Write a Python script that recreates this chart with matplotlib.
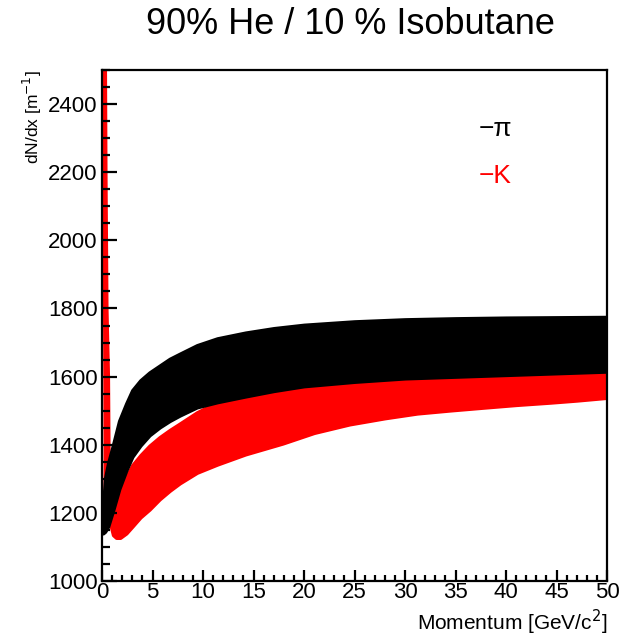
import numpy as np
import matplotlib.pyplot as plt
from matplotlib.ticker import MultipleLocator

plt.rcParams['font.family'] = ['Liberation Sans', 'DejaVu Sans']

# pion band envelope (dN/dx vs momentum)
pi_p     = [0.1, 0.3, 0.6, 1.1, 1.7, 2.4, 3.0, 3.8, 4.7, 5.7, 6.7, 7.7, 9.4, 11.4,
            14.2, 17.0, 20.0, 25.0, 30.0, 35.0, 40.0, 45.0, 50.0]
pi_lower = [1140, 1145, 1160, 1208, 1270, 1325, 1365, 1398, 1428, 1451, 1470, 1486, 1510, 1525,
            1542, 1558, 1572, 1585, 1595, 1600, 1605, 1610, 1615]
pi_upper = [1210, 1300, 1345, 1400, 1470, 1521, 1560, 1589, 1612, 1632, 1652, 1667, 1692, 1712,
            1729, 1742, 1752, 1762, 1768, 1771, 1773, 1774, 1775]

# kaon band envelope
k_p     = [0.8, 1.1, 1.4, 1.8, 2.4, 3.0, 3.8, 4.7, 5.7, 6.7, 7.7, 9.4, 11.4, 14.2, 17.9,
           21.0, 24.5, 28.0, 31.2, 34.5, 37.7, 41.0, 44.4, 47.0, 50.0]
k_lower = [1170, 1135, 1127, 1127, 1140, 1160, 1187, 1210, 1240, 1265, 1287, 1318, 1342, 1372, 1404,
           1435, 1460, 1478, 1492, 1501, 1509, 1517, 1524, 1530, 1538]
k_upper = [1195, 1230, 1250, 1275, 1305, 1340, 1369, 1397, 1422, 1443, 1462, 1495, 1525, 1555, 1580,
           1595, 1605, 1612, 1616, 1620, 1624, 1628, 1632, 1636, 1640]

# low momentum kaons (steep rise near p = 0)
k_strip_y    = [1250, 1400, 1600, 1800, 2000, 2200, 2500]
k_strip_pmin = [0.1, 0.1, 0.08, 0.05, 0.05, 0.05, 0.05]
k_strip_pmax = [0.9, 0.8, 0.75, 0.6, 0.55, 0.5, 0.45]

fig = plt.figure(figsize=(6.25, 6.37), dpi=100)
ax = fig.add_axes([0.1632, 0.0879, 0.808, 0.8022])

ax.fill_betweenx(k_strip_y, k_strip_pmin, k_strip_pmax, color='#ff0000', lw=0)
ax.fill_between(k_p, k_lower, k_upper, color='#ff0000', lw=2.5, edgecolor='#ff0000')
ax.fill_between(pi_p, pi_lower, pi_upper, color='black', lw=2.5, edgecolor='black')

ax.set_xlim(0, 50)
ax.set_ylim(1000, 2500)
ax.xaxis.set_major_locator(MultipleLocator(5))
ax.xaxis.set_minor_locator(MultipleLocator(1))
ax.yaxis.set_major_locator(MultipleLocator(200))
ax.yaxis.set_minor_locator(MultipleLocator(50))

for s in ax.spines.values():
    s.set_linewidth(1.6)
ax.tick_params(axis='both', which='both', direction='in', top=False, right=False,
               labelsize=16, width=1.6)
ax.tick_params(axis='y', which='major', length=10.5, pad=3)
ax.tick_params(axis='y', which='minor', length=5.5)
ax.tick_params(axis='x', which='major', length=8, pad=1)
ax.tick_params(axis='x', which='minor', length=4)

ax.set_xlabel('Momentum [GeV/c$^2$]', fontsize=15, loc='right', labelpad=3)
ax.set_ylabel('dN/dx [m$^{-1}$]', fontsize=12.5, loc='top', labelpad=3)

ax.text(0.745, 0.885, '−π', transform=ax.transAxes, fontsize=19, color='black', va='center')
ax.text(0.745, 0.792, '−K', transform=ax.transAxes, fontsize=19, color='#ff0000', va='center')

fig.text(0.56, 0.961, '90% He / 10 % Isobutane', fontsize=26, ha='center', va='center')

fig.savefig('out.png', dpi=100)
